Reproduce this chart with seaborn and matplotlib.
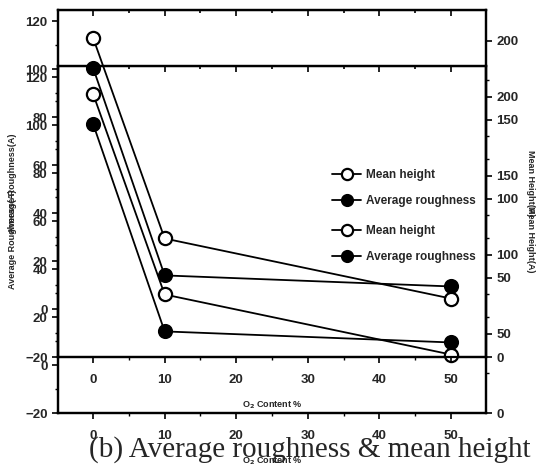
import matplotlib
matplotlib.use("Agg")
import matplotlib.pyplot as plt
from matplotlib.ticker import MultipleLocator
import seaborn as sns
import pandas as pd

# data
o2_content = [0, 10, 50]
avg_roughness = [100.5, 14, 9.4]
mean_height = [202, 75, 37]
x_ticks = [0, 10, 20, 30, 40, 50]
left_ticks = [-20, 0, 20, 40, 60, 80, 100, 120]
right_ticks = [0, 50, 100, 150, 200]
caption = "(b) Average roughness & mean height"

sns.set_style("ticks")
plt.rcParams['font.family'] = ['Liberation Sans Narrow', 'Liberation Sans', 'DejaVu Sans']
plt.rcParams['font.weight'] = 'bold'

df = pd.DataFrame({"o2": o2_content, "rough": avg_roughness, "height": mean_height})

fig = plt.figure(figsize=(5.41, 4.70), dpi=100)

tick_fs = 9.5
lab_fs = 6.5


def draw_chart(rect):
    ax = fig.add_axes(rect)
    ax.patch.set_alpha(0)
    ax2 = ax.twinx()
    ax2.patch.set_alpha(0)
    sns.lineplot(data=df, x="o2", y="rough", ax=ax, color="k", lw=1.3,
                 marker="o", markersize=9.5, markerfacecolor="k",
                 markeredgecolor="k", markeredgewidth=1.4,
                 label="Average roughness", legend=False)
    sns.lineplot(data=df, x="o2", y="height", ax=ax2, color="k", lw=1.3,
                 marker="o", markersize=9.5, markerfacecolor="white",
                 markeredgecolor="k", markeredgewidth=1.6,
                 label="Mean height", legend=False)
    ax.set_xlim(-4.9, 54.9)
    ax.set_ylim(-20, 124.6)
    ax2.set_ylim(0, 219.6)
    ax.set_xticks(x_ticks)
    ax.set_yticks(left_ticks)
    ax2.set_yticks(right_ticks)
    ax.xaxis.set_minor_locator(MultipleLocator(5))
    ax.yaxis.set_minor_locator(MultipleLocator(10))
    ax2.yaxis.set_minor_locator(MultipleLocator(25))
    for a in (ax, ax2):
        a.tick_params(which='major', length=4, width=1.2, labelsize=tick_fs, color='k')
        a.tick_params(which='minor', length=2.5, width=1.0, color='k')
        for s in a.spines.values():
            s.set_linewidth(1.6)
            s.set_color('k')
            s.set_visible(True)
    ax.tick_params(axis='x', pad=8)
    sec = ax.secondary_xaxis('top')
    sec.set_xticks(x_ticks)
    sec.xaxis.set_minor_locator(MultipleLocator(5))
    sec.tick_params(which='both', direction='in', labeltop=False, width=1.2, color='k')
    sec.tick_params(which='major', length=4)
    sec.tick_params(which='minor', length=2.5)
    ax.set_xlabel("O$_2$ Content %", fontsize=lab_fs, fontweight='bold', labelpad=10)
    ax.set_ylabel("Average Roughness(A)", fontsize=lab_fs, fontweight='bold', labelpad=6)
    ax2.set_ylabel("Mean Height(A)", fontsize=lab_fs, fontweight='bold', rotation=270, labelpad=12)
    h1 = ax2.get_lines()[0]
    h2 = ax.get_lines()[0]
    ax.legend([h1, h2], ["Mean height", "Average roughness"], loc='center left',
              bbox_to_anchor=(0.64, 0.487), frameon=False, fontsize=8.5,
              handlelength=2.5, handletextpad=0.35, labelspacing=1.25,
              borderpad=0, borderaxespad=0, markerscale=0.85)
    ax.set_zorder(ax2.get_zorder() + 1)
    return ax


ax_a = draw_chart([58 / 541, (470 - 357) / 470, 428 / 541, 347 / 470])
ax_b = draw_chart([58 / 541, (470 - 413) / 470, 428 / 541, 347 / 470])

fig.text(0.573, 0.043, caption, ha='center', va='center', fontsize=21,
         family=['Liberation Serif', 'DejaVu Serif'], fontweight='normal')

fig.savefig("out.png", dpi=100)
